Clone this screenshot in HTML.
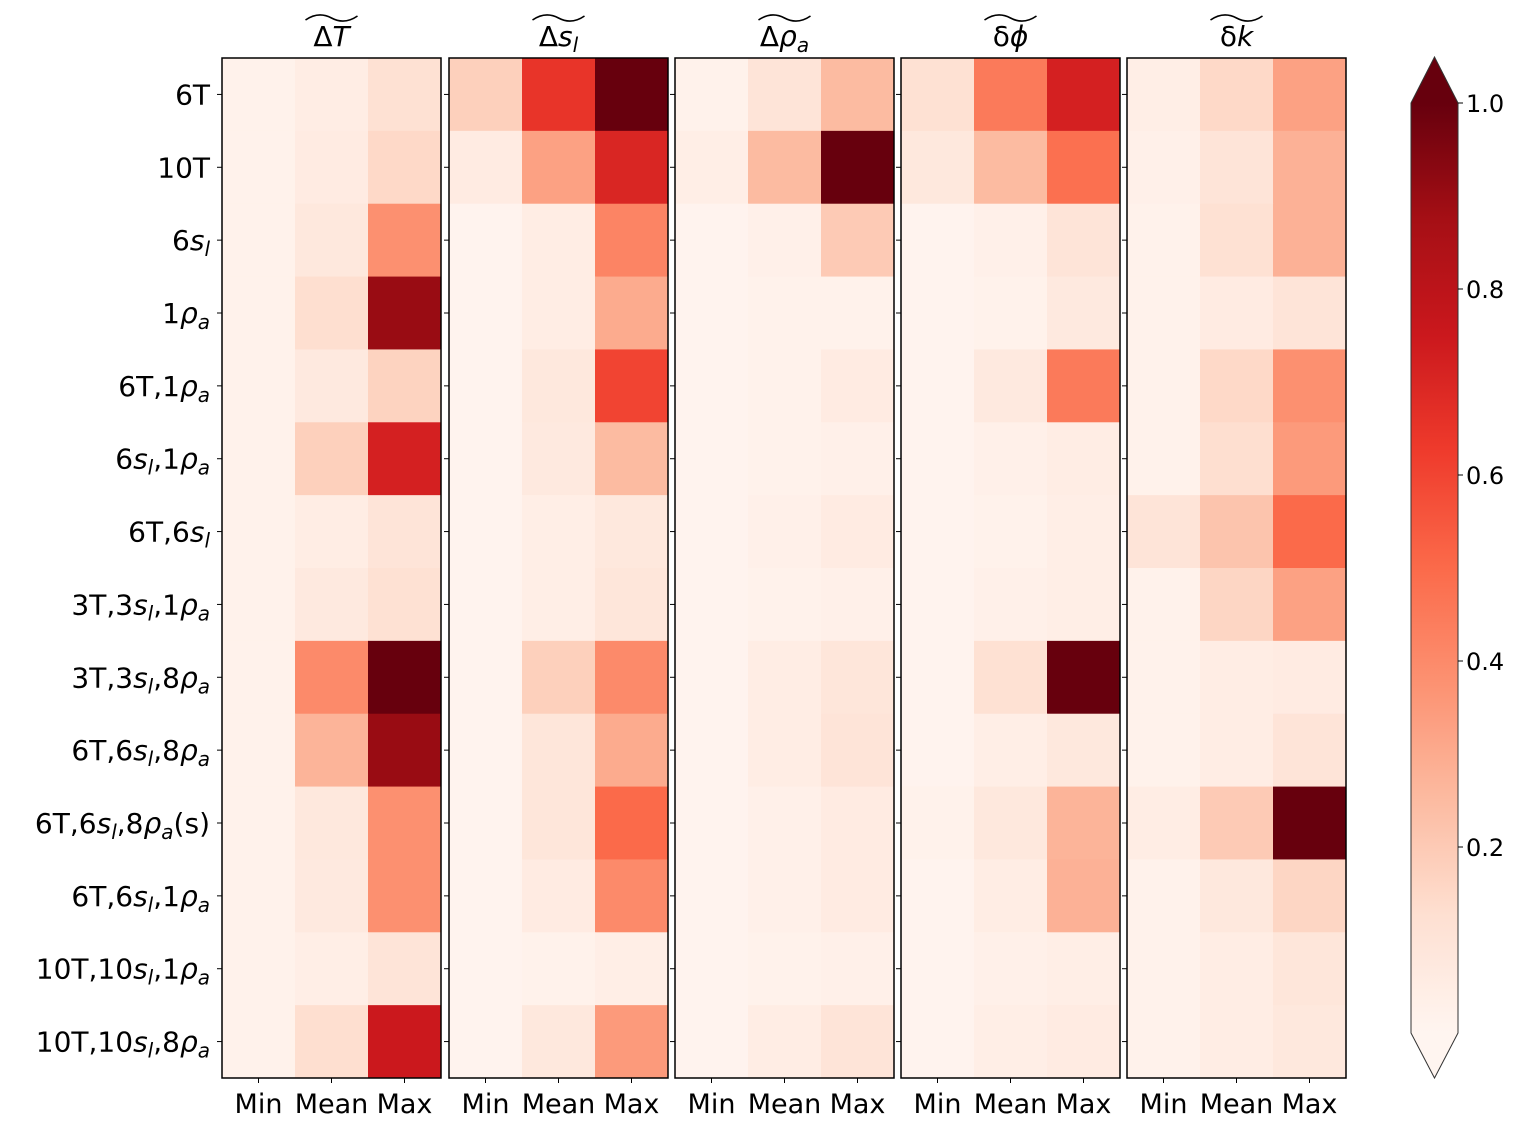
<!DOCTYPE html>
<html><head><meta charset="utf-8"><style>
body{margin:0;background:#fff}
svg{display:block;font-family:"DejaVu Sans","Liberation Sans",sans-serif}
</style></head><body>
<svg id="chart" width="1522" height="1129" viewBox="0 0 1522 1129"></svg>
<script>
const rowLabels = ["6T","10T","6s","1p","6T,1p","6s,1p","6T,6s","3T,3s,1p","3T,3s,8p","6T,6s,8p","6T,6s,8p(s)","6T,6s,1p","10T,10s,1p","10T,10s,8p"];
const colLabels = ["Min","Mean","Max"];
const panelTitles = ["dT","ds","dp","phi","k"];
const valsDT = [[.02,.05,.12],[.02,.06,.15],[.02,.08,.38],[.02,.13,.9],[.02,.07,.17],[.02,.18,.72],[.02,.05,.1],[.02,.07,.12],[.02,.4,1.0],[.02,.27,.9],[.02,.08,.38],[.02,.07,.38],[.02,.04,.1],[.02,.13,.75]];
const valsDS = [[.18,.65,1.0],[.06,.33,.7],[.01,.05,.42],[.01,.05,.3],[.01,.08,.6],[.01,.07,.25],[.01,.04,.08],[.01,.04,.09],[.01,.18,.4],[.01,.09,.3],[.01,.09,.5],[.01,.06,.4],[.01,.02,.04],[.01,.08,.35]];
const valsDP = [[.02,.1,.25],[.04,.25,1.0],[.01,.03,.2],[.01,.02,.02],[.01,.02,.06],[.01,.02,.03],[.01,.03,.06],[.01,.02,.03],[.01,.05,.09],[.01,.05,.1],[.01,.03,.06],[.01,.03,.06],[.01,.02,.03],[.01,.05,.1]];
const valsPHI = [[.12,.45,.72],[.08,.25,.48],[.01,.03,.1],[.01,.02,.07],[.01,.07,.45],[.01,.03,.05],[.01,.02,.04],[.01,.03,.04],[.01,.12,1.0],[.01,.04,.08],[.02,.08,.27],[.01,.05,.28],[.01,.03,.04],[.01,.04,.06]];
const valsK = [[.04,.15,.33],[.03,.1,.28],[.02,.12,.28],[.02,.06,.1],[.02,.15,.38],[.02,.13,.35],[.1,.22,.5],[.02,.16,.33],[.02,.05,.06],[.02,.05,.1],[.05,.2,1.0],[.02,.08,.16],[.02,.05,.09],[.02,.05,.08]];
const cbTicks = [0.2,0.4,0.6,0.8,1.0];

const NS="http://www.w3.org/2000/svg";
const svg=document.getElementById('chart');
function el(t,a,p){const e=document.createElementNS(NS,t);for(const k in a)e.setAttribute(k,a[k]);(p||svg).appendChild(e);return e;}
const stops=[[255,245,240],[254,224,210],[252,187,161],[252,146,114],[251,106,74],[239,59,44],[203,24,29],[165,15,21],[103,0,13]];
function cmap(v){v=Math.max(0,Math.min(1,v));const f=v*8,i=Math.min(7,Math.floor(f)),t=f-i;const a=stops[i],b=stops[i+1];return `rgb(${a.map((c,j)=>Math.round(c+(b[j]-c)*t)).join(',')})`;}

const panelsX=[222,449,675,901,1127], pw=219, topY=58, botY=1078;
const rh=(botY-topY)/rowLabels.length, cw=pw/3;
const allVals=[valsDT,valsDS,valsDP,valsPHI,valsK];
const xScale=(p,c)=>panelsX[p]+c*cw;
const yScale=r=>topY+r*rh;

function richLabel(txt,x,y,anchor,parent){
  const t=el('text',{x,y,'text-anchor':anchor,'font-size':28,fill:'#000'},parent);
  let i=0;
  while(i<txt.length){
    const ch=txt[i];
    if(ch==='s'&&txt[i+1]!==')'){const a=el('tspan',{'font-style':'italic'},t);a.textContent='s';const b=el('tspan',{'font-style':'italic','font-size':20,dy:6},t);b.textContent='l';const c=el('tspan',{dy:-6},t);c.textContent='\u200b';i++;}
    else if(ch==='p'){const a=el('tspan',{'font-style':'italic'},t);a.textContent='ρ';const b=el('tspan',{'font-style':'italic','font-size':20,dy:6},t);b.textContent='a';const c=el('tspan',{dy:-6},t);c.textContent='\u200b';i++;}
    else{const a=el('tspan',{},t);a.textContent=ch;i++;}
  }
  return t;
}

const titleText=[["Δ","T"],["Δ","s","l"],["Δ","ρ","a"],["δ","ϕ"],["δ","k"]];
allVals.forEach((vals,p)=>{
  const g=el('g',{});
  
  
  vals.forEach((row,r)=>row.forEach((v,c)=>{
    const rc=el('rect',{x:xScale(p,c),y:yScale(r),width:cw+0.5,height:rh+0.5,fill:cmap(v)},g);
    
    
  }));
  el('rect',{x:panelsX[p],y:topY,width:pw,height:botY-topY,fill:'none',stroke:'#000','stroke-width':1.5},g);
  for(let r=0;r<rowLabels.length;r++) el('line',{x1:panelsX[p]-5,x2:panelsX[p],y1:yScale(r)+rh/2,y2:yScale(r)+rh/2,stroke:'#000'},g);
  colLabels.forEach((lab,c)=>{
    const cx=xScale(p,c)+cw/2;
    el('line',{x1:cx,x2:cx,y1:botY,y2:botY+5,stroke:'#000'},g);
    const t=el('text',{x:cx,y:1113,'text-anchor':'middle','font-size':27},g);t.textContent=lab;
    
    
  });
  const tx=panelsX[p]+pw/2;
  const tt=el('text',{x:tx,y:46,'text-anchor':'middle','font-size':28},g);
  
  
  const parts=titleText[p];
  const a=el('tspan',{},tt);a.textContent=parts[0];
  const b=el('tspan',{'font-style':'italic'},tt);b.textContent=parts[1];
  if(parts[2]){const c=el('tspan',{'font-style':'italic','font-size':20,dy:6},tt);c.textContent=parts[2];}
  el('path',{d:`M${tx-26},${20} q13,-9 26,-2 q13,7 26,-2`,fill:'none',stroke:'#000','stroke-width':1.6},g);
});

rowLabels.forEach((lab,r)=>{
  const t=richLabel(lab,210,yScale(r)+rh/2+10,'end');
  
  
});

const cbX=1411,cbW=47,cb0=1033,cb1=103;
const cg=el('g',{});


const defs=el('defs',{},cg);
const lg=el('linearGradient',{id:'gr',x1:0,y1:1,x2:0,y2:0},defs);
for(let i=0;i<=40;i++){el('stop',{offset:i/40,'stop-color':cmap(i/40)},lg);}
el('rect',{x:cbX,y:cb1,width:cbW,height:cb0-cb1,fill:'url(#gr)'},cg);
el('path',{d:`M${cbX},${cb1} L${cbX+cbW/2},57 L${cbX+cbW},${cb1}Z`,fill:cmap(1)},cg);
el('path',{d:`M${cbX},${cb0} L${cbX+cbW/2},1078 L${cbX+cbW},${cb0}Z`,fill:cmap(0)},cg);
el('path',{d:`M${cbX},${cb1} L${cbX+cbW/2},57 L${cbX+cbW},${cb1} L${cbX+cbW},${cb0} L${cbX+cbW/2},1078 L${cbX},${cb0}Z`,fill:'none',stroke:'#333','stroke-width':1},cg);
const cbY=v=>cb0-(cb0-cb1)*v;
cbTicks.forEach(v=>{
  el('line',{x1:cbX+cbW,x2:cbX+cbW+5,y1:cbY(v),y2:cbY(v),stroke:'#000'},cg);
  const t=el('text',{x:cbX+cbW+8,y:cbY(v)+9,'font-size':24},cg);t.textContent=v.toFixed(1);
  
  
});
</script>
</body></html>
